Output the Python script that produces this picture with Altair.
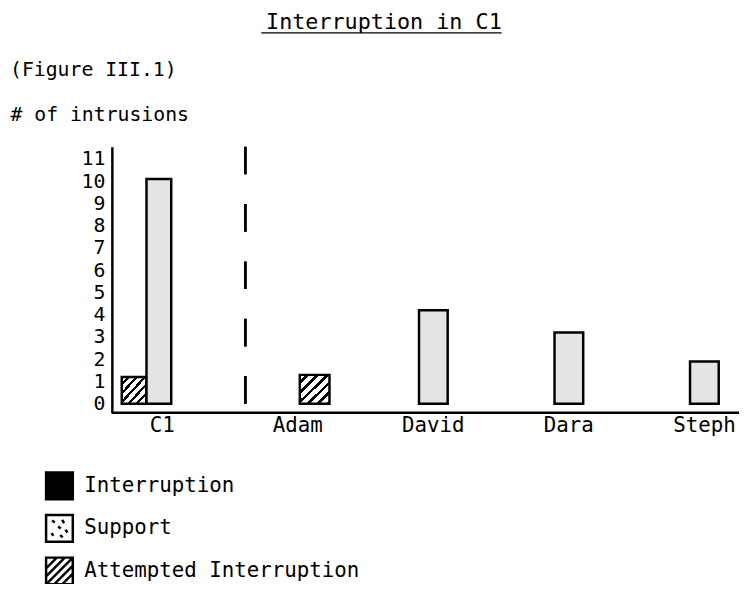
import altair as alt
import pandas as pd

# ---- data ----
categories = ["C1", "Adam", "David", "Dara", "Steph"]
bar_category = ["C1", "C1", "Adam", "David", "Dara", "Steph"]
bar_type = ["Attempted Interruption", "Support", "Attempted Interruption",
            "Support", "Support", "Support"]
bar_value = [1.2, 10.1, 1.3, 4.2, 3.2, 1.9]
legend_types = ["Interruption", "Support", "Attempted Interruption"]
y_ticks = [0, 1, 2, 3, 4, 5, 6, 7, 8, 9, 10, 11]
figure_label = ["(Figure III.1)"]

df = pd.DataFrame({"category": bar_category, "type": bar_type, "value": bar_value})
one = pd.DataFrame({"label": figure_label})

FONT = "DejaVu Sans Mono"
W, H = 622, 269

# hatch fill (diagonal stripes) as a hard-stop gradient
n = 6
stops = []
for i in range(n):
    a = i / n
    stops += [
        alt.GradientStop(offset=a, color="white"),
        alt.GradientStop(offset=a + 0.62 / n, color="white"),
        alt.GradientStop(offset=a + 0.62 / n, color="black"),
        alt.GradientStop(offset=min(1.0, a + 1.0 / n), color="black"),
    ]
hatch = alt.Gradient(gradient="linear", stops=stops, x1=0, y1=0, x2=1, y2=1)
stipple = "#e4e4e4"

x_scale = alt.Scale(domain=categories, range=[-17.5, 667.5], paddingInner=0, paddingOuter=0)
x_enc = alt.X(
    "category:N",
    sort=categories,
    scale=x_scale,
    axis=alt.Axis(title=None, labelAngle=0, ticks=False, domain=False, grid=False,
                  labelFont=FONT, labelFontSize=21, labelColor="black", labelPadding=2),
)
y_scale = alt.Scale(domain=[-0.4, 11.55], nice=False, zero=False)
y_axis = alt.Axis(values=y_ticks, tickCount=12, ticks=False, grid=False, domainColor="black",
                  domainWidth=2.5, labelOverlap=False, labelFont=FONT, labelFontSize=20,
                  labelColor="black", labelPadding=7,
                  title="# of intrusions", titleAngle=0, titleAlign="left",
                  titleBaseline="middle", titleX=-103, titleY=-32,
                  titleFont=FONT, titleFontSize=20, titleFontWeight="normal", titleColor="black")
y_enc = alt.Y("value:Q", scale=y_scale, axis=y_axis)

base = alt.Chart(df)
bar_style = dict(stroke="black", strokeWidth=2.5)

c1_att = base.transform_filter(
    (alt.datum.category == "C1") & (alt.datum.type == "Attempted Interruption")
).mark_bar(fill=hatch, xOffset=-28.5, width=25, **bar_style).encode(x=x_enc, y=y_enc, y2=alt.value(H))

c1_sup = base.transform_filter(
    (alt.datum.category == "C1") & (alt.datum.type == "Support")
).mark_bar(fill=stipple, xOffset=-3.5, width=25, **bar_style).encode(x=x_enc, y=y_enc, y2=alt.value(H))

oth_att = base.transform_filter(
    (alt.datum.category != "C1") & (alt.datum.type == "Attempted Interruption")
).mark_bar(fill=hatch, xOffset=17, width=30, **bar_style).encode(x=x_enc, y=y_enc, y2=alt.value(H))

oth_sup = base.transform_filter(
    (alt.datum.category != "C1") & (alt.datum.type == "Support")
).mark_bar(fill=stipple, width=29, **bar_style).encode(x=x_enc, y=y_enc, y2=alt.value(H))

# dashed separator between C1 and the individual students
sep = base.transform_filter(alt.datum.category == "C1").mark_rule(
    color="black", strokeWidth=2.5, strokeDash=[28, 30]
).encode(
    x=alt.XDatum("Adam", type="nominal", bandPosition=0.113, scale=x_scale),
    y=alt.YDatum(11.55, type="quantitative", scale=y_scale, axis=y_axis),
    y2=alt.datum(0),
)

# x axis baseline
baseline = alt.Chart(one).mark_rule(color="black", strokeWidth=2.5).encode(
    x=alt.value(0), x2=alt.value(W + 12), y=alt.value(H)
)

# title underline
underline = alt.Chart(one).mark_rule(color="black", strokeWidth=1.5).encode(
    x=alt.value(151), x2=alt.value(394), y=alt.value(-115)
)

# figure label
fig_label = alt.Chart(one).mark_text(
    align="left", baseline="middle", font=FONT, fontSize=20, color="black"
).encode(x=alt.value(-103), y=alt.value(-77), text="label:N")

square = "M-1,-1H1V1H-1Z"
dots = (square + " M-0.55,-0.6L-0.35,-0.45 M0.2,-0.65L0.35,-0.4 M-0.1,-0.15L0.1,0"
        " M0.45,0.1L0.6,0.3 M-0.6,0.35L-0.45,0.55 M0.05,0.5L0.25,0.65")
hatch_path = (square + " M-1,-0.2L-0.2,-1 M-1,0.4L0.4,-1 M-1,1L1,-1 M-0.4,1L1,-0.4 M0.2,1L1,0.2")

leg = alt.Legend(title=None, orient="none", legendX=-68, legendY=328, padding=0,
                 symbolSize=729, symbolStrokeColor="black", symbolStrokeWidth=2.5,
                 symbolOpacity=1, labelFont=FONT, labelFontSize=21, labelColor="black",
                 labelOffset=10, rowPadding=5, labelLimit=400)

legend_layer = base.mark_point(filled=True, opacity=0).encode(
    x=x_enc,
    y=y_enc,
    fill=alt.Fill("type:N", scale=alt.Scale(domain=legend_types, range=["black", "white", "white"]),
                  legend=leg),
    stroke=alt.Stroke("type:N", scale=alt.Scale(domain=legend_types, range=["black", "black", "black"]),
                      legend=leg),
    shape=alt.Shape("type:N", scale=alt.Scale(domain=legend_types, range=[square, dots, hatch_path]),
                    legend=leg),
)

chart = alt.layer(
    c1_att, c1_sup, oth_att, oth_sup, sep, baseline, underline, fig_label, legend_layer
).properties(
    width=W,
    height=H,
    title=alt.TitleParams("Interruption in C1", font=FONT, fontSize=22, fontWeight="normal",
                          anchor="middle", dx=-36, dy=4, offset=2, color="black"),
    autosize=alt.AutoSizeParams(type="none"),
    padding={"left": 105, "top": 137, "right": 12, "bottom": 170},
    background="white",
).configure_view(stroke=None).configure_axis(labelOverlap=False)

chart.save("out.html", embed_options={"renderer": "svg", "actions": False})
